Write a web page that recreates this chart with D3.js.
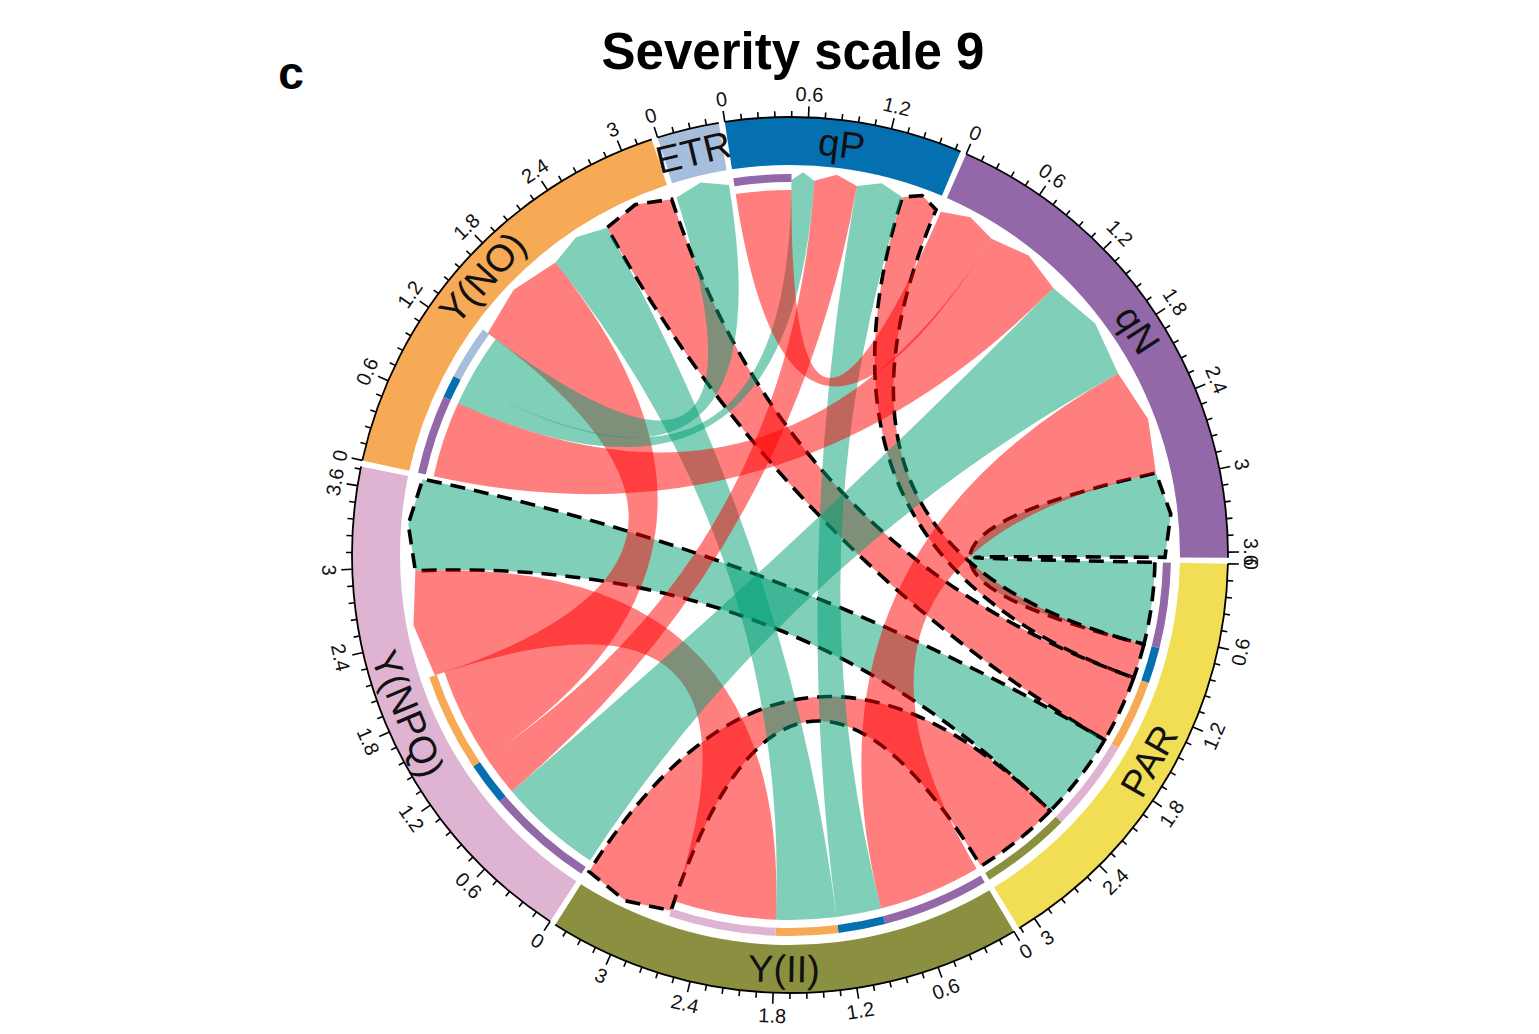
<!DOCTYPE html>
<html>
<head>
<meta charset="utf-8">
<script src="https://cdn.jsdelivr.net/npm/d3@7"></script>
<style>
  html, body { margin: 0; padding: 0; background: #fff; }
  svg { display: block; font-family: "Liberation Sans", Arial, sans-serif; }
</style>
</head>
<body>
<svg id="chart" width="1539" height="1034"></svg>
<script>
// sectors, clockwise from the top-left
const sectors = ['ETR', 'qP', 'qN', 'PAR', 'Y(II)', 'Y(NPQ)', 'Y(NO)'];
const sectorColors = ['#a6bddb', '#0570b0', '#9268a8', '#f2de54', '#8b9040', '#deb4d2', '#f6aa55'];

// directed links (source -> target), signed correlation
const linkFrom  = ['PAR', 'PAR', 'PAR', 'PAR', 'PAR', 'Y(II)', 'Y(II)', 'Y(II)', 'Y(II)', 'Y(NPQ)', 'Y(NPQ)', 'Y(NPQ)', 'Y(NO)', 'Y(NO)', 'Y(NO)', 'qP'];
const linkTo    = ['qN', 'qP', 'Y(NO)', 'Y(NPQ)', 'Y(II)', 'qN', 'qP', 'Y(NO)', 'Y(NPQ)', 'qN', 'qP', 'Y(NO)', 'qN', 'qP', 'ETR', 'qN'];
const linkValue = [0.71, -0.30, -0.59, 0.77, -0.76, -0.89, 0.39, 0.52, -0.89, 0.90, -0.36, -0.82, -0.66, 0.19, 0.45, -0.48];
const highlighted = 'PAR';

const majorTicks = [0, 0.6, 1.2, 1.8, 2.4, 3, 3.6];
const minorStep = 0.12;

const title = 'Severity scale 9';
const panelLabel = 'c';

// ---------------------------------------------------------------------------

const cx = 790, cy = 555;
const rOut = 438, rIn = 390;
const rBarOut = 381, rBarIn = 373;
const rSrc = 365, rTgt = 375, rTip = 383;
const gapDeg = 0.8, startDeg = 342.4;
const rad = Math.PI / 180;

const posColor = 'rgba(0,160,115,0.5)';
const negColor = 'rgba(255,0,0,0.5)';

const svg = d3.select('#chart');
const g = svg.append('g').attr('transform', `translate(${cx},${cy})`);

const n = sectors.length;
const links = linkValue.map((v, i) => ({ from: linkFrom[i], to: linkTo[i], value: v, w: Math.abs(v) }));
const totals = sectors.map(s => d3.sum(links.filter(l => l.from === s || l.to === s), l => l.w));
const degPerUnit = (360 - n * gapDeg) / d3.sum(totals);

// one linear scale per sector: value -> degrees (clockwise from 12 o'clock)
let acc = startDeg;
const scales = sectors.map((s, i) => {
  const sc = d3.scaleLinear().domain([0, totals[i]]).range([acc, acc + totals[i] * degPerUnit]);
  acc += totals[i] * degPerUnit + gapDeg;
  return sc;
});

// place link ends inside each sector: outgoing first, then incoming,
// each ordered by counter-clockwise distance to the other sector
sectors.forEach((s, i) => {
  const ends = [];
  links.forEach(l => {
    if (l.from === s) ends.push({ l, role: 'src', other: sectors.indexOf(l.to) });
    if (l.to === s) ends.push({ l, role: 'tgt', other: sectors.indexOf(l.from) });
  });
  ends.sort((a, b) => (a.role === b.role ? 0 : a.role === 'src' ? -1 : 1)
    || ((i - a.other + n) % n) - ((i - b.other + n) % n));
  let pos = 0;
  ends.forEach(e => {
    e.l[e.role] = [scales[i](pos), scales[i](pos + e.l.w)];
    pos += e.l.w;
  });
});

const pt = (r, deg) => [r * Math.sin(deg * rad), -r * Math.cos(deg * rad)];

function linkPath(l) {
  const [s0, s1] = l.src;
  const [t0, t1] = l.tgt;
  const p = d3.path();
  const start = pt(rSrc, s0);
  p.moveTo(start[0], start[1]);
  p.arc(0, 0, rSrc, (s0 - 90) * rad, (s1 - 90) * rad);
  p.quadraticCurveTo(0, 0, ...pt(rTgt, t0));
  p.lineTo(...pt(rTip, (t0 + t1) / 2));
  p.lineTo(...pt(rTgt, t1));
  p.quadraticCurveTo(0, 0, start[0], start[1]);
  p.closePath();
  return p.toString();
}

// links
g.append('g').selectAll('path')
  .data(links)
  .join('path')
  .attr('d', linkPath)
  .attr('fill', d => (d.value > 0 ? posColor : negColor))
  .attr('stroke', d => (d.from === highlighted ? '#000' : 'none'))
  .attr('stroke-width', 3.6)
  .attr('stroke-dasharray', '15 9');

// target-colour bars at the source ends
const arc = d3.arc();
g.append('g').selectAll('path')
  .data(links)
  .join('path')
  .attr('d', d => arc({ innerRadius: rBarIn, outerRadius: rBarOut, startAngle: d.src[0] * rad, endAngle: d.src[1] * rad }))
  .attr('fill', d => sectorColors[sectors.indexOf(d.to)]);

// sector track
const sectorG = g.append('g').selectAll('g')
  .data(sectors)
  .join('g');

sectorG.append('path')
  .attr('d', (d, i) => arc({ innerRadius: rIn, outerRadius: rOut, startAngle: scales[i].range()[0] * rad, endAngle: scales[i].range()[1] * rad }))
  .attr('fill', (d, i) => sectorColors[i]);

const flip = a => {
  const m = ((a % 360) + 360) % 360;
  return m > 90 && m < 270 ? m - 180 : m;
};

sectorG.append('text')
  .attr('transform', (d, i) => {
    const a = d3.mean(scales[i].range());
    const [x, y] = pt((rIn + rOut) / 2, a);
    return `translate(${x},${y}) rotate(${flip(a)})`;
  })
  .attr('text-anchor', 'middle')
  .attr('dominant-baseline', 'central')
  .attr('font-size', 38)
  .attr('fill', '#111')
  .text(d => d);

// axis line + ticks
sectorG.append('path')
  .attr('d', (d, i) => {
    const [a0, a1] = scales[i].range();
    const p = d3.path();
    p.moveTo(...pt(rOut, a0));
    p.arc(0, 0, rOut, (a0 - 90) * rad, (a1 - 90) * rad);
    return p.toString();
  })
  .attr('fill', 'none')
  .attr('stroke', '#000')
  .attr('stroke-width', 1.8);

sectorG.each(function (d, i) {
  const sel = d3.select(this);
  const ticks = d3.range(0, totals[i] + 1e-9, minorStep).map((v, k) => ({ v, major: k % 5 === 0 }));
  sel.selectAll('line.tick')
    .data(ticks)
    .join('line')
    .attr('class', 'tick')
    .attr('x1', t => pt(rOut, scales[i](t.v))[0])
    .attr('y1', t => pt(rOut, scales[i](t.v))[1])
    .attr('x2', t => pt(rOut + (t.major ? 11 : 6), scales[i](t.v))[0])
    .attr('y2', t => pt(rOut + (t.major ? 11 : 6), scales[i](t.v))[1])
    .attr('stroke', '#000')
    .attr('stroke-width', 1.6);

  sel.selectAll('text.tl')
    .data(majorTicks.filter(v => v <= totals[i]))
    .join('text')
    .attr('class', 'tl')
    .attr('transform', v => {
      const a = scales[i](v);
      const [x, y] = pt(rOut + 23, a);
      return `translate(${x},${y}) rotate(${flip(a)})`;
    })
    .attr('text-anchor', 'middle')
    .attr('dominant-baseline', 'central')
    .attr('font-size', 20)
    .attr('fill', '#111')
    .text(v => String(v));
});

// titles
svg.append('text')
  .attr('x', 793)
  .attr('y', 69)
  .attr('text-anchor', 'middle')
  .attr('font-size', 51)
  .attr('font-weight', 'bold')
  .text(title);

svg.append('text')
  .attr('x', 291)
  .attr('y', 89)
  .attr('text-anchor', 'middle')
  .attr('font-size', 46)
  .attr('font-weight', 'bold')
  .text(panelLabel);
</script>
</body>
</html>
